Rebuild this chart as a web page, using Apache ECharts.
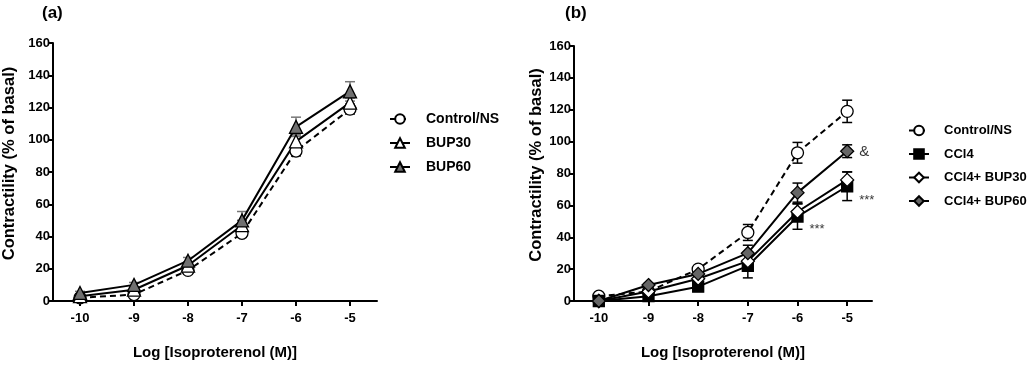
<!DOCTYPE html>
<html><head><meta charset="utf-8">
<script src="https://cdn.jsdelivr.net/npm/echarts@6/dist/echarts.min.js"></script>
<style>html,body{margin:0;padding:0;background:#fff}#c{width:1028px;height:365px}</style>
</head><body><div id="c"></div>
<script>
const xVals = [-10, -9, -8, -7, -6, -5];
const xTicks = [-10, -9, -8, -7, -6, -5];
// panel (a)
const aControl = [2, 4, 19, 42, 93, 119];
const aControlErr = [1, 1.5, 2, 2.5, 3, 3];
const aBup30 = [3, 7, 22, 47, 99, 123];
const aBup30Err = [1, 1.5, 2, 3, 4, 3];
const aBup60 = [5, 10, 25, 50, 108, 130];
const aBup60Err = [1, 1.5, 2, 5.5, 6, 6];
// panel (b)
const bControl = [3, 6, 20, 43, 93, 119];
const bControlErr = [1, 1, 2, 5, 6.5, 7];
const bCcl4 = [0, 3, 9, 22, 53, 72];
const bCcl4Err = [1, 1, 2, 7.5, 8, 9];
const bBup30 = [0, 6, 14, 25, 56, 76];
const bBup30Err = [1, 1, 2, 4, 5, 5];
const bBup60 = [0, 10, 17, 30, 68, 94];
const bBup60Err = [1, 1, 2, 5, 6, 4];
// annotations: [x, y, text]
const bNotes = [[-5, 93.5, '&'], [-5, 63, '***'], [-6, 45, '***']];

const FONT = 'Liberation Sans, Arial, sans-serif';
const pts = (ys) => xVals.map((x, i) => [x, ys[i]]);
const errs = (ys, es) => xVals.map((x, i) => [x, ys[i] - es[i], ys[i] + es[i]]);

function errRender(params, api) {
  const x = api.value(0), lo = api.value(1), hi = api.value(2);
  const p1 = api.coord([x, lo]), p2 = api.coord([x, hi]);
  const c = api.visual('color'), w = 5;
  const st = { stroke: c, lineWidth: 1.5 };
  return { type: 'group', children: [
    { type: 'line', shape: { x1: p1[0], y1: p1[1], x2: p2[0], y2: p2[1] }, style: st },
    { type: 'line', shape: { x1: p1[0] - w, y1: p1[1], x2: p1[0] + w, y2: p1[1] }, style: st },
    { type: 'line', shape: { x1: p2[0] - w, y1: p2[1], x2: p2[0] + w, y2: p2[1] }, style: st }
  ]};
}

function xAxis(gi) {
  return {
    gridIndex: gi, type: 'value', min: -10.5, max: -4.5,
    name: 'Log [Isoproterenol (M)]', nameLocation: 'middle', nameGap: 44,
    nameTextStyle: { fontFamily: FONT, fontWeight: 'bold', fontSize: 15, color: '#000' },
    axisLine: { onZero: false, lineStyle: { color: '#000', width: 2 } },
    axisTick: { customValues: xTicks, length: 5, lineStyle: { color: '#000', width: 2 } },
    axisLabel: { customValues: xTicks, fontFamily: FONT, fontWeight: 'bold', fontSize: 13, color: '#000', margin: 11 },
    splitLine: { show: false }
  };
}
function yAxis(gi, gap) {
  return {
    gridIndex: gi, type: 'value', min: 0, max: 160, interval: 20,
    name: 'Contractility (% of basal)', nameLocation: 'middle', nameGap: gap,
    nameTextStyle: { fontFamily: FONT, fontWeight: 'bold', fontSize: 16.5, color: '#000', padding: [0, 0, 0, 17] },
    axisLine: { show: true, lineStyle: { color: '#000', width: 2 } },
    axisTick: { show: true, length: 5, lineStyle: { color: '#000', width: 2 } },
    axisLabel: { fontFamily: FONT, fontWeight: 'bold', fontSize: 13, color: '#000', margin: 3 },
    splitLine: { show: false }
  };
}
function lineSeries(name, gi, ys, symbol, size, fill, dashed) {
  return {
    name, type: 'line', xAxisIndex: gi, yAxisIndex: gi, data: pts(ys),
    symbol, symbolSize: size, showSymbol: true, z: 3,
    lineStyle: { color: '#000', width: 2, type: dashed ? [6, 4] : 'solid' },
    itemStyle: { color: fill, borderColor: '#000', borderWidth: 1.3 },
    emphasis: { disabled: true }
  };
}
function errSeries(gi, ys, es, color) {
  return { type: 'custom', xAxisIndex: gi, yAxisIndex: gi, data: errs(ys, es),
    renderItem: errRender, itemStyle: { color }, z: 2, silent: true };
}

const option = {
  animation: false,
  title: [
    { text: '(a)', left: 37, top: 0, textStyle: { fontFamily: FONT, fontWeight: 'bold', fontSize: 17, color: '#000' } },
    { text: '(b)', left: 560, top: 0, textStyle: { fontFamily: FONT, fontWeight: 'bold', fontSize: 17, color: '#000' } }
  ],
  grid: [
    { left: 53, top: 43, width: 324, height: 259 },
    { left: 574, top: 46, width: 298, height: 257 }
  ],
  legend: [
    { orient: 'vertical', left: 389, top: 112, padding: 0, itemGap: 10, itemWidth: 20, itemHeight: 12,
      data: ['Control/NS', 'BUP30', 'BUP60'],
      textStyle: { fontFamily: FONT, fontWeight: 'bold', fontSize: 14, color: '#000', padding: [0, 0, 0, 11] } },
    { orient: 'vertical', left: 908, top: 124, padding: 0, itemGap: 10.5, itemWidth: 20, itemHeight: 12,
      data: ['Control/NS', 'CCl4', 'CCl4+ BUP30', 'CCl4+ BUP60'],
      textStyle: { fontFamily: FONT, fontWeight: 'bold', fontSize: 13, color: '#000', padding: [0, 0, 0, 10] } }
  ],
  xAxis: [xAxis(0), xAxis(1)],
  yAxis: [yAxis(0, 35), yAxis(1, 29)],
  series: [
    errSeries(0, aControl, aControlErr, '#000'),
    errSeries(0, aBup30, aBup30Err, '#555'),
    errSeries(0, aBup60, aBup60Err, '#777'),
    lineSeries('Control/NS', 0, aControl, 'circle', 12, '#fff', true),
    lineSeries('BUP30', 0, aBup30, 'triangle', 13, '#fff', false),
    lineSeries('BUP60', 0, aBup60, 'triangle', 13, '#707070', false),
    errSeries(1, bControl, bControlErr, '#000'),
    errSeries(1, bCcl4, bCcl4Err, '#000'),
    errSeries(1, bBup30, bBup30Err, '#000'),
    errSeries(1, bBup60, bBup60Err, '#000'),
    lineSeries('Control/NS', 1, bControl, 'circle', 12, '#fff', true),
    lineSeries('CCl4', 1, bCcl4, 'rect', 11, '#000', false),
    lineSeries('CCl4+ BUP30', 1, bBup30, 'diamond', 13, '#fff', false),
    lineSeries('CCl4+ BUP60', 1, bBup60, 'diamond', 13, '#666', false),
    { type: 'scatter', xAxisIndex: 1, yAxisIndex: 1, symbolSize: 0, silent: true,
      data: bNotes.map(n => ({ value: [n[0], n[1]], label: { formatter: n[2], fontSize: n[2] === '&' ? 15 : 13 } })),
      label: { show: true, position: 'right', distance: 12, fontFamily: FONT, fontSize: 13, color: '#000' } }
  ]
};
const chart = echarts.init(document.getElementById('c'), null, { renderer: 'canvas' });
chart.setOption(option);
</script></body></html>
